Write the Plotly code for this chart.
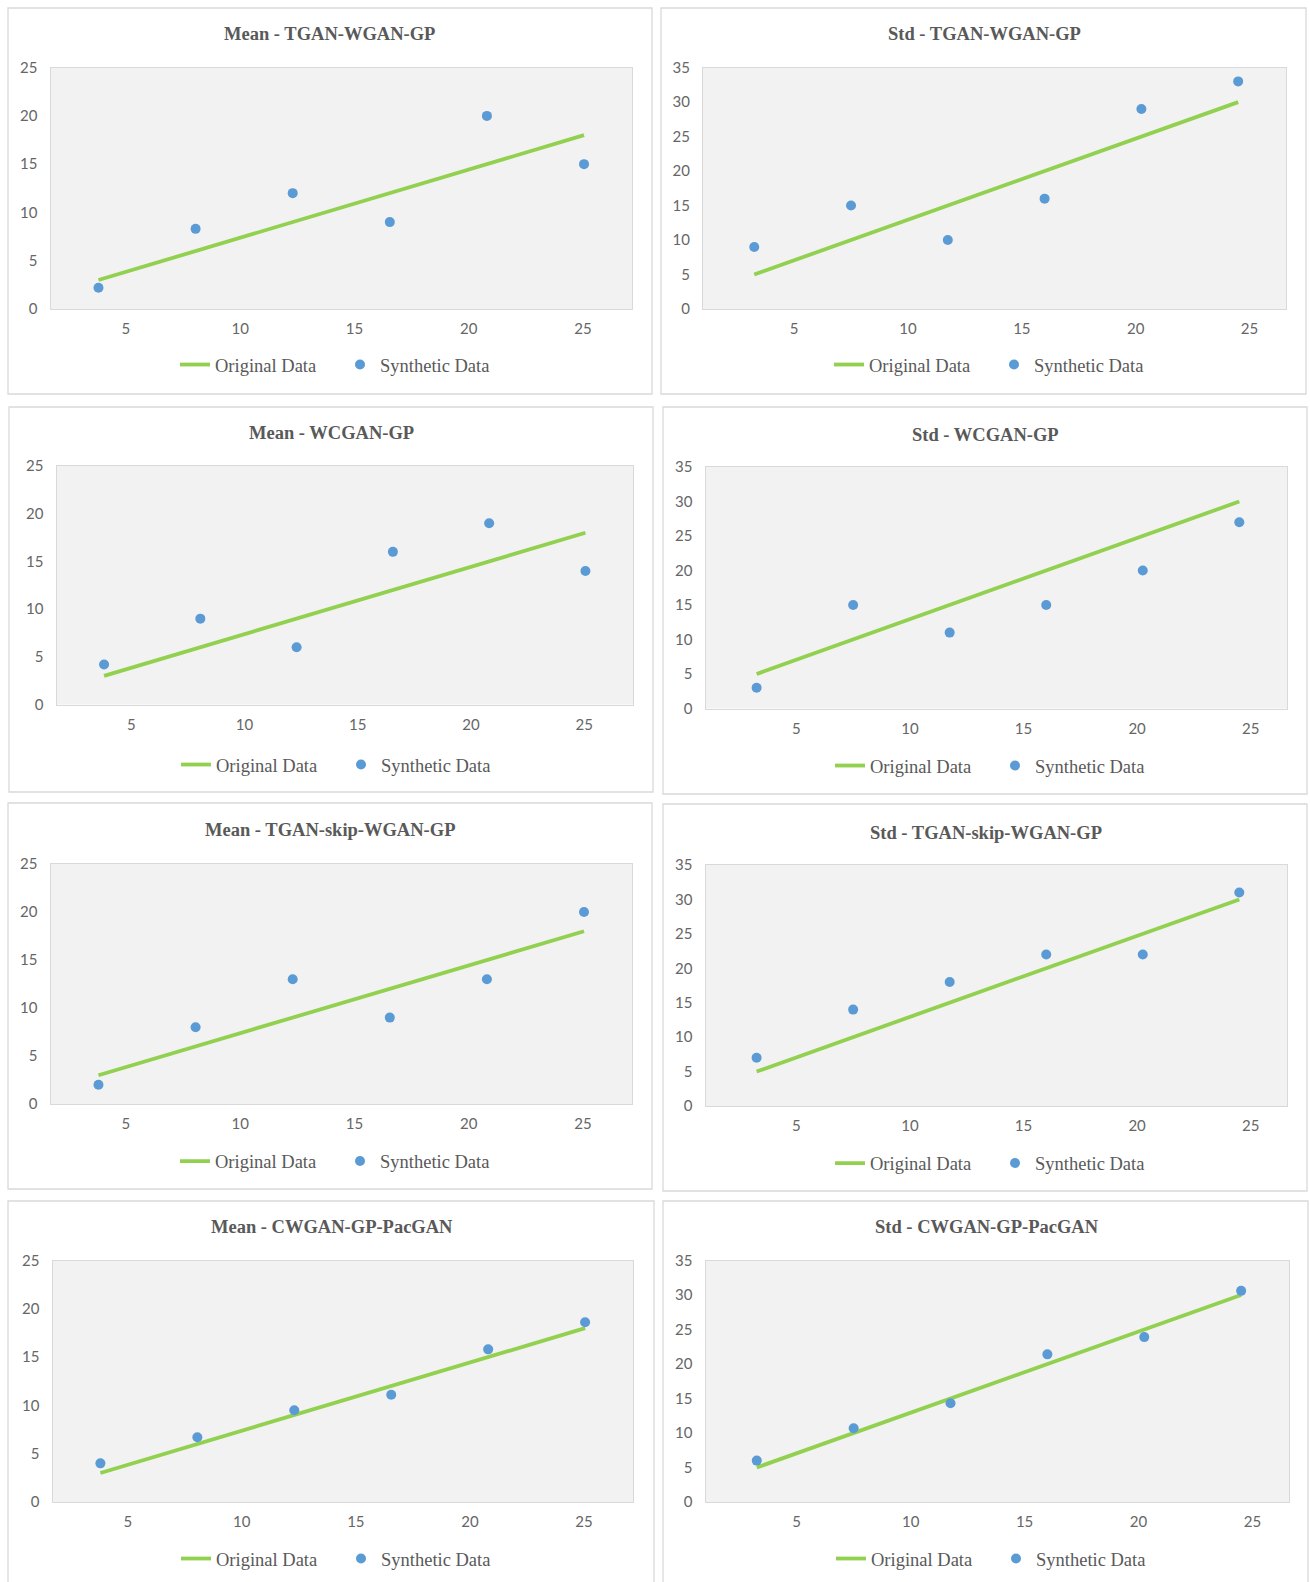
import plotly.graph_objects as go

W, H = 1310, 1582

# ---- data -------------------------------------------------------------
chart_titles = [
    "Mean - TGAN-WGAN-GP", "Std - TGAN-WGAN-GP",
    "Mean - WCGAN-GP", "Std - WCGAN-GP",
    "Mean - TGAN-skip-WGAN-GP", "Std - TGAN-skip-WGAN-GP",
    "Mean - CWGAN-GP-PacGAN", "Std - CWGAN-GP-PacGAN",
]

mean_x = [3.8, 8.05, 12.3, 16.55, 20.8, 25.05]
std_x = [3.25, 7.5, 11.75, 16.0, 20.25, 24.5]

original_mean = [3, 6, 9, 12, 15, 18]
original_std = [5, 10, 15, 20, 25, 30]

synthetic_mean_tgan_wgan_gp = [2.2, 8.3, 12, 9, 20, 15]
synthetic_std_tgan_wgan_gp = [9, 15, 10, 16, 29, 33]
synthetic_mean_wcgan_gp = [4.2, 9, 6, 16, 19, 14]
synthetic_std_wcgan_gp = [3, 15, 11, 15, 20, 27]
synthetic_mean_tgan_skip = [2, 8, 13, 9, 13, 20]
synthetic_std_tgan_skip = [7, 14, 18, 22, 22, 31]
synthetic_mean_cwgan_pacgan = [4, 6.7, 9.5, 11.1, 15.8, 18.6]
synthetic_std_cwgan_pacgan = [6, 10.7, 14.3, 21.4, 23.9, 30.6]

x_ticks = [5, 10, 15, 20, 25]

synthetic_series = [
    synthetic_mean_tgan_wgan_gp, synthetic_std_tgan_wgan_gp,
    synthetic_mean_wcgan_gp, synthetic_std_wcgan_gp,
    synthetic_mean_tgan_skip, synthetic_std_tgan_skip,
    synthetic_mean_cwgan_pacgan, synthetic_std_cwgan_pacgan,
]

# ---- layout (pixels) -------------------------------------------------
# outer card (x0, y0, x1, y1) and plot area (x0, y0, x1, y1)
cards = [
    (8, 8, 652, 394), (661, 8, 1306, 394),
    (9, 407, 653, 792), (663, 407, 1307, 794),
    (8, 803, 652, 1189), (663, 804, 1307, 1191),
    (8, 1201, 654, 1600), (663, 1201, 1308, 1600),
]
plot_areas = [
    (50.5, 67.6, 632, 309), (703, 67.6, 1286, 309),
    (56.5, 466, 633, 704.5), (705.5, 467, 1287, 708.5),
    (50.5, 864, 632, 1104), (705.5, 865, 1287, 1106),
    (52.5, 1260.5, 633, 1502), (705.5, 1260.5, 1289, 1502),
]
title_pos = [
    (330, 34.5), (984, 34.5), (331, 433), (985, 435),
    (330, 830.5), (986, 832.5), (332, 1227), (987, 1227),
]
legend_pos = [
    (340, 365), (994, 365), (341, 765), (995, 766),
    (340, 1161.5), (995, 1163.5), (341, 1559), (996, 1559),
]

TEXT = "#595959"
TICK = "#666666"
GREEN = "#92D050"
BLUE = "#5B9BD5"
SERIF = "Liberation Serif"
SANS = "Lato"


def px_x(v):
    return v / W


def px_y(v):
    return 1 - v / H


fig = go.Figure()
shapes = []
annotations = []
layout = {}

for i in range(8):
    n = i + 1
    sfx = "" if n == 1 else str(n)
    is_mean = i % 2 == 0
    xs = mean_x if is_mean else std_x
    orig = original_mean if is_mean else original_std
    leg = "legend" if n == 1 else f"legend{n}"

    fig.add_trace(go.Scatter(
        x=xs, y=orig, mode="lines", name="Original Data",
        line=dict(color=GREEN, width=3.8),
        xaxis=f"x{sfx}", yaxis=f"y{sfx}", legend=leg, showlegend=True,
    ))
    fig.add_trace(go.Scatter(
        x=xs, y=synthetic_series[i], mode="markers", name="Synthetic Data",
        marker=dict(color=BLUE, size=10),
        xaxis=f"x{sfx}", yaxis=f"y{sfx}", legend=leg, showlegend=True,
    ))

    px0, py0, px1, py1 = plot_areas[i]
    layout[f"xaxis{sfx}"] = dict(
        domain=[px_x(px0), px_x(px1)],
        anchor=f"y{sfx}",
        range=[1.7, 27.15] if is_mean else [1.0, 26.6],
        tickvals=x_ticks,
        showgrid=False, zeroline=False,
        showline=True, mirror=True, linecolor="#D9D9D9", linewidth=1,
        ticks="", ticklabelstandoff=6,
        tickfont=dict(family=SANS, size=15, color=TICK),
        fixedrange=True,
    )
    layout[f"yaxis{sfx}"] = dict(
        domain=[px_y(py1), px_y(py0)],
        anchor=f"x{sfx}",
        range=[0, 25] if is_mean else [0, 35],
        dtick=5,
        showgrid=False, zeroline=False,
        showline=True, mirror=True, linecolor="#D9D9D9", linewidth=1,
        ticks="", ticklabelstandoff=9,
        tickfont=dict(family=SANS, size=15, color=TICK),
        fixedrange=True,
    )
    # grey plot-area fill
    shapes.append(dict(
        type="rect", xref="paper", yref="paper", layer="below",
        x0=px_x(px0), x1=px_x(px1), y0=px_y(py1), y1=px_y(py0),
        fillcolor="#F2F2F2", line=dict(width=0),
    ))
    # card border
    cx0, cy0, cx1, cy1 = cards[i]
    shapes.append(dict(
        type="rect", xref="paper", yref="paper", layer="below",
        x0=px_x(cx0), x1=px_x(cx1), y0=px_y(cy1), y1=px_y(cy0),
        fillcolor="rgba(0,0,0,0)", line=dict(color="#D9D9D9", width=1.3),
    ))
    tx, ty = title_pos[i]
    annotations.append(dict(
        text=f"<b>{chart_titles[i]}</b>", xref="paper", yref="paper",
        x=px_x(tx), y=px_y(ty), xanchor="center", yanchor="middle",
        showarrow=False, font=dict(family=SERIF, size=18.5, color=TEXT),
    ))
    lx, ly = legend_pos[i]
    layout[leg] = dict(
        orientation="h", x=px_x(lx), y=px_y(ly),
        xanchor="center", yanchor="middle",
        bgcolor="rgba(0,0,0,0)",
        font=dict(family=SERIF, size=18.5, color=TEXT),
        entrywidth=120, entrywidthmode="pixels",
        itemclick=False, itemdoubleclick=False,
    )

fig.update_layout(
    width=W, height=H,
    margin=dict(l=0, r=0, t=0, b=0, autoexpand=False),
    paper_bgcolor="white", plot_bgcolor="rgba(0,0,0,0)",
    shapes=shapes, annotations=annotations,
    **layout,
)

fig.write_html("out.html", config={"displayModeBar": False})
